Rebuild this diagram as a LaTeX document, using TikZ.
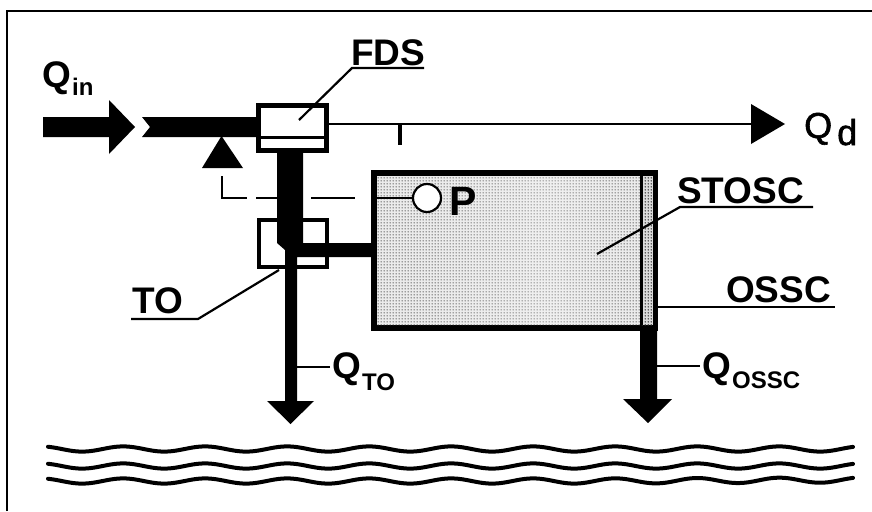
\documentclass[tikz,border=0pt]{standalone}
\usepackage{fontspec}
\setmainfont{Liberation Sans}
\newfontfamily\semib[FakeBold=1.6]{Liberation Sans}
\usetikzlibrary{patterns}
\pgfdeclarepatternformonly{finedots}{\pgfqpoint{-1pt}{-1pt}}{\pgfqpoint{2pt}{2pt}}{\pgfqpoint{3pt}{3pt}}{%
  \pgfpathcircle{\pgfqpoint{0.5pt}{0.5pt}}{0.95pt}\pgfusepath{fill}}
\definecolor{tank}{gray}{0.92}
\definecolor{tankb}{gray}{0.86}
\newcommand{\fs}[1]{\fontsize{#1}{#1}\selectfont}
\tikzset{
  x=1pt,y=-1pt,
  lead/.style={draw=black,line width=2.2pt},
  lbl/.style={inner sep=0pt,anchor=base west,font=\fs{37}\bfseries},
  sublbl/.style={inner sep=0pt,anchor=base west,font=\fs{24}\bfseries},
  wave/.style={line width=4pt,line cap=round,draw=black},
  boxline/.style={draw=black,line width=5pt,fill=white}
}
\begin{document}
\begin{tikzpicture}
\useasboundingbox (0,0) rectangle (872,511);
\fill[white] (0,0) rectangle (872,511);
% frame
\draw[line width=2.4pt] (7,511) -- (7,11) -- (872,11);
% coordinates
\coordinate (qd) at (785,124);
% inflow
\fill (43,117) -- (109,117) -- (109,100) -- (135,127) -- (109,154) -- (109,137) -- (43,137) -- cycle;
\fill (142,117) -- (258,117) -- (258,137) -- (142,137) -- (150,127) -- cycle;
% tank
\node[draw=black,line width=6pt,fill=tank,minimum width=281pt,minimum height=155pt,inner sep=0pt,anchor=north west] (tank) at (371,170) {};
\fill[pattern=finedots,pattern color=black!70] (377,176) rectangle (652,325);
\foreach \a/\b in {440/620,470/600,500/580,525/565}{
  \fill[white,opacity=.07] (\a,176) rectangle (\b,325);
}
\fill[tankb] (642,176) rectangle (653,325);
\fill[pattern=finedots,pattern color=black!80] (642,176) rectangle (653,325);
\draw[line width=3pt] (641.5,176) -- (641.5,325);
% FDS box
\node[boxline,minimum width=68pt,minimum height=45pt,inner sep=0pt,anchor=north west] (fds) at (256,103) {};
\draw[line width=3pt] (fds.west |- 0,137) -- (fds.east |- 0,137);
% TO box
\node[draw=black,line width=4pt,fill=white,minimum width=68pt,minimum height=47pt,inner sep=0pt,anchor=north west] (to) at (257,218) {};
% pipes
\fill (277,153) -- (303,153) -- (303,243) -- (372,243) -- (372,257) -- (297,257) -- (297,401) -- (314,401) -- (290.5,424) -- (267,401) -- (285,401) -- (285,250) -- (277,243) -- cycle;
\fill (640,331) -- (657,331) -- (657,399) -- (672,399) -- (648,423) -- (623,399) -- (640,399) -- cycle;
% triangle
\fill (221.5,136) -- (243,168) -- (202,168) -- cycle;
% dashed signal
\node[draw=black,line width=2.2pt,fill=white,circle,minimum size=28pt,inner sep=0pt] (p) at (427,198) {};
\draw[line width=2.2pt] (222,176) -- (222,198) -- (247,198);
\draw[line width=2.2pt] (256,198) -- (277,198);
\draw[line width=2.2pt] (311,198) -- (355,198);
\draw[line width=2.2pt] (376,198) -- (p.west);
% demand line
\draw[line width=2.2pt] (fds.east |- qd) -- (752,124);
\draw[line width=4pt] (400,124) -- (400,145);
\fill (751,104) -- (qd) -- (751,144) -- cycle;
% labels
\node[lbl] (tfds) at (351,65) {FDS};
\node[lbl] (ttosc) at (677,203) {STOSC};
\node[lbl] (tossc) at (726,302) {OSSC};
\node[lbl] (tto) at (132,313) {TO};
\node[inner sep=0pt,anchor=base west,font=\fs{41}\bfseries] (tp) at (449,215) {P};
\node[lbl] (qin) at (42,87) {Q};
\node[sublbl] at (72,95) {in};
\node[inner sep=0pt,anchor=base west,font=\fs{36}\semib] (qdl) at (804,138) {Q};
\node[inner sep=0pt,anchor=base west,font=\fs{36}\semib] at (837,145) {d};
\node[lbl] (qto) at (332,378) {Q};
\node[sublbl] at (362,390) {TO};
\node[lbl] (qos) at (702,378) {Q};
\node[sublbl] at (732,388) {OSSC};
% leaders
\draw[lead] (299,120) -- (352,68) -- (424,68);
\draw[lead] (597,254) -- (680,207) -- (813,207);
\draw[lead] (658,307) -- (835,307);
\draw[lead] (131,319) -- (198,319) -- (279,270);
\draw[lead] (297,367) -- (330,367);
\draw[lead] (657,366) -- (700,366);
% water
\foreach \yy/\r in {449/0,466/0,481/1}{
  \draw[wave] plot[domain=48:853,samples=160,smooth] (\x,{\yy+2.6*sin(4.39*(\x-48)-60)+\r*(-0.004)*max(\x-600,0)});
}
\end{tikzpicture}
\end{document}
